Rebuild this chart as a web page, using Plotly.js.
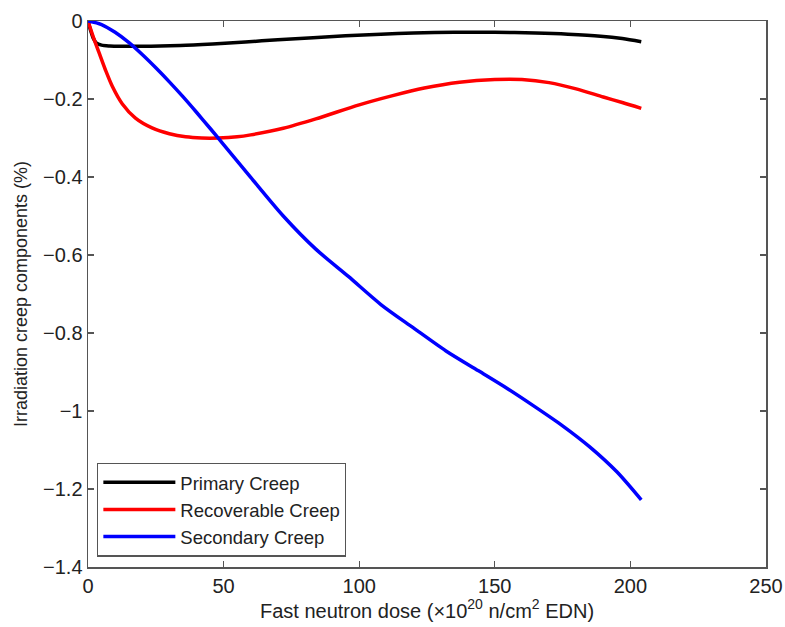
<!DOCTYPE html>
<html>
<head>
<meta charset="utf-8">
<script src="https://cdn.plot.ly/plotly-3.0.1.min.js"></script>
<style>html,body{margin:0;padding:0;background:#fff;}#chart{width:785px;height:627px;}</style>
</head>
<body>
<div id="chart"></div>
<script>
var primaryDose = [0, 1, 2, 3, 5, 8, 20, 34, 46, 58, 70, 83, 95, 108, 120, 135, 150, 165, 177, 189, 197, 204];
var primaryVal  = [0, -0.025, -0.045, -0.056, -0.062, -0.064, -0.065, -0.063, -0.059, -0.054, -0.048, -0.043, -0.038, -0.034, -0.031, -0.029, -0.029, -0.031, -0.034, -0.039, -0.045, -0.053];

var recovDose = [0, 2, 4, 6.4, 9, 12.6, 17.5, 23.6, 30, 36, 42, 48, 55, 60, 72, 84, 100, 112, 124, 137, 150, 160, 170, 180, 190, 197, 204];
var recovVal  = [0, -0.042, -0.08, -0.125, -0.168, -0.212, -0.249, -0.274, -0.289, -0.297, -0.300, -0.300, -0.297, -0.292, -0.275, -0.251, -0.215, -0.192, -0.172, -0.157, -0.150, -0.150, -0.158, -0.174, -0.195, -0.209, -0.224];

var secDose = [0, 5, 10, 15, 20, 25, 30, 35, 40, 45, 50, 60, 72, 84, 96, 108, 120, 132, 144, 155, 165, 175, 185, 195, 204];
var secVal  = [0, -0.009, -0.029, -0.055, -0.086, -0.120, -0.156, -0.194, -0.234, -0.275, -0.317, -0.401, -0.500, -0.585, -0.655, -0.727, -0.787, -0.846, -0.897, -0.944, -0.990, -1.038, -1.092, -1.156, -1.228];

var seriesNames = ["Primary Creep", "Recoverable Creep", "Secondary Creep"];
var xTicks = [0, 50, 100, 150, 200, 250];
var yTicks = [0, -0.2, -0.4, -0.6, -0.8, -1, -1.2, -1.4];

var font = "Liberation Sans, Arial, Helvetica, sans-serif";

var traces = [
  {x: primaryDose, y: primaryVal, name: seriesNames[0], mode: "lines", line: {color: "#000000", width: 3.5, shape: "spline", smoothing: 0.8}},
  {x: recovDose, y: recovVal, name: seriesNames[1], mode: "lines", line: {color: "#ff0000", width: 3.5, shape: "spline", smoothing: 0.8}},
  {x: secDose, y: secVal, name: seriesNames[2], mode: "lines", line: {color: "#0000ff", width: 3.5, shape: "spline", smoothing: 0.8}}
];

var axisCommon = {
  showgrid: false, zeroline: false, showline: true, mirror: "ticks",
  linecolor: "#555", linewidth: 1.5, ticks: "inside", ticklen: 6, tickcolor: "#555", tickwidth: 1.2,
  tickfont: {family: font, size: 20, color: "#222"}
};

var layout = {
  width: 785, height: 627,
  margin: {l: 87.5, r: 18.5, t: 21, b: 60},
  paper_bgcolor: "#fff", plot_bgcolor: "#fff",
  font: {family: font, color: "#222"},
  xaxis: Object.assign({}, axisCommon, {
    range: [0, 250], tickvals: xTicks, ticktext: xTicks.map(String),
    title: {text: "Fast neutron dose (×10<sup>20</sup> n/cm<sup>2</sup> EDN)", font: {family: font, size: 20, color: "#222"}, standoff: 5}
  }),
  yaxis: Object.assign({}, axisCommon, {
    range: [-1.4, 0], tickvals: yTicks,
    ticktext: yTicks.map(function(v){ return v === 0 ? "0" : "\u2212" + String(Math.abs(v)); }),
    title: {text: "Irradiation creep components (%)", font: {family: font, size: 18, color: "#222"}, standoff: 10}
  }),
  showlegend: true,
  legend: {
    x: 0.0135, y: 0.019, xanchor: "left", yanchor: "bottom",
    bordercolor: "#555", borderwidth: 1.2, bgcolor: "#fff",
    font: {family: font, size: 18.5, color: "#222"},
    itemwidth: 72, tracegroupgap: 0
  }
};

Plotly.newPlot("chart", traces, layout, {displayModeBar: false, staticPlot: true});
</script>
</body>
</html>
